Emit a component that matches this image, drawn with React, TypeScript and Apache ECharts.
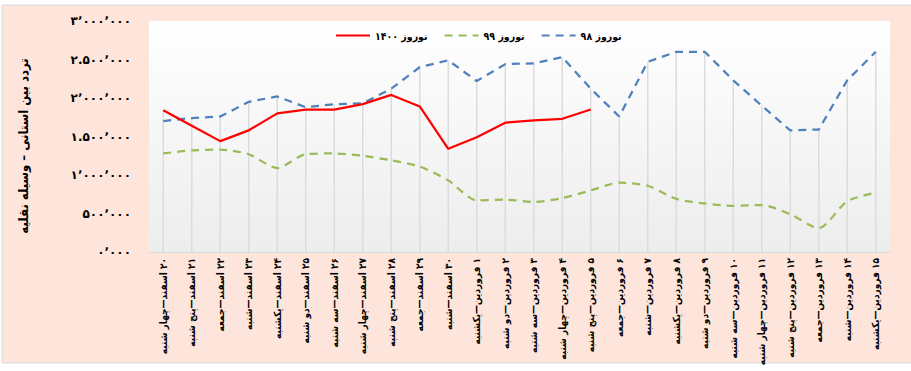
import React, { useEffect, useRef } from "react";
import * as echarts from "echarts";

const categories = [
  "۲۰ اسفند—چهار شنبه",
  "۲۱ اسفند—پنج شنبه",
  "۲۲ اسفند—جمعه",
  "۲۳ اسفند—شنبه",
  "۲۴ اسفند—یکشنبه",
  "۲۵ اسفند—دو شنبه",
  "۲۶ اسفند—سه شنبه",
  "۲۷ اسفند—چهار شنبه",
  "۲۸ اسفند—پنج شنبه",
  "۲۹ اسفند—جمعه",
  "۳۰ اسفند—شنبه",
  "۱ فروردین—یکشنبه",
  "۲ فروردین—دو شنبه",
  "۳ فروردین—سه شنبه",
  "۴ فروردین—چهار شنبه",
  "۵ فروردین—پنج شنبه",
  "۶ فروردین—جمعه",
  "۷ فروردین—شنبه",
  "۸ فروردین—یکشنبه",
  "۹ فروردین—دو شنبه",
  "۱۰ فروردین—سه شنبه",
  "۱۱ فروردین—چهار شنبه",
  "۱۲ فروردین—پنج شنبه",
  "۱۳ فروردین—جمعه",
  "۱۴ فروردین—شنبه",
  "۱۵ فروردین—یکشنبه",
];

const nowruz1400 = [
  1840000, 1640000, 1440000, 1580000, 1800000, 1850000, 1850000, 1920000,
  2040000, 1890000, 1340000, 1490000, 1680000, 1710000, 1730000, 1850000,
];

const nowruz99 = [
  1280000, 1320000, 1330000, 1270000, 1090000, 1270000, 1280000, 1250000,
  1190000, 1110000, 930000, 670000, 680000, 650000, 700000, 800000,
  900000, 860000, 690000, 630000, 600000, 610000, 490000, 310000,
  660000, 770000,
];

const nowruz98 = [
  1700000, 1740000, 1760000, 1950000, 2020000, 1880000, 1920000, 1930000,
  2120000, 2400000, 2490000, 2220000, 2440000, 2450000, 2530000, 2120000,
  1760000, 2470000, 2600000, 2600000, 2230000, 1900000, 1580000, 1590000,
  2230000, 2600000,
];

const yTickValues = [0, 500000, 1000000, 1500000, 2000000, 2500000, 3000000];
const yTickLabels = [
  "۰٬۰۰۰",
  "۵۰۰٬۰۰۰",
  "۱٬۰۰۰٬۰۰۰",
  "۱.۵۰۰٬۰۰۰",
  "۲٬۰۰۰٬۰۰۰",
  "۲.۵۰۰٬۰۰۰",
  "۳٬۰۰۰٬۰۰۰",
];

const seriesNames = ["نوروز ۱۴۰۰", "نوروز ۹۹", "نوروز ۹۸"];
const yAxisTitle = "تردد بین استانی – وسیله نقلیه";

const FONT = "DejaVu Sans";
const COND = "DejaVu Sans Condensed, DejaVu Sans";

// wrap in right-to-left embedding so numbers sit at the logical start
const rtl = (s: string) => "\u202B" + s + "\u202C";

export default function App() {
  const ref = useRef<HTMLDivElement>(null);

  useEffect(() => {
    document.body.style.margin = "0";
    if (!ref.current) return;
    const chart = echarts.init(ref.current, undefined, { renderer: "svg" });

    const dropData = categories.map((_, i) =>
      Math.max(nowruz1400[i] ?? 0, nowruz99[i] ?? 0, nowruz98[i] ?? 0)
    );

    chart.setOption({
      animation: false,
      backgroundColor: "#ffffff",
      textStyle: { fontFamily: FONT },
      graphic: [
        {
          type: "rect",
          z: -10,
          silent: true,
          shape: { x: 2, y: 5, width: 930, height: 358 },
          style: { fill: "#fde5dc", stroke: "#d9d9d9", lineWidth: 1 },
        },
        {
          type: "text",
          x: 23,
          y: 146,
          rotation: Math.PI / 2,
          silent: true,
          style: {
            text: rtl(yAxisTitle),
            fontFamily: COND,
            fontWeight: "bold",
            fontSize: 13,
            fill: "#000",
            align: "center",
            verticalAlign: "middle",
          },
        },
      ],
      legend: {
        data: seriesNames,
        left: 330,
        top: 25,
        itemWidth: 34,
        itemHeight: 12,
        itemGap: 16,
        itemStyle: { opacity: 0 },
        formatter: (n: string) => rtl(n),
        textStyle: {
          fontFamily: COND,
          fontWeight: "bold",
          fontSize: 10.5,
          color: "#000",
        },
      },
      grid: {
        left: 149,
        right: 21,
        top: 21,
        bottom: 119,
        outerBoundsMode: "none",
        containLabel: false,
        show: true,
        borderWidth: 0,
        backgroundColor: new echarts.graphic.LinearGradient(0, 0, 0, 1, [
          { offset: 0, color: "#ffffff" },
          { offset: 1, color: "#ededed" },
        ]),
      },
      xAxis: {
        type: "category",
        data: categories,
        boundaryGap: true,
        axisTick: { show: false },
        axisLine: { lineStyle: { color: "#d9d9d9", width: 1 } },
        axisLabel: {
          interval: 0,
          rotate: 90,
          margin: 6,
          fontFamily: COND,
          fontWeight: "bold",
          fontSize: 10,
          color: "#000",
          formatter: (v: string) => rtl(v),
        },
        splitLine: { show: false },
      },
      yAxis: {
        type: "value",
        min: 0,
        max: 3000000,
        interval: 500000,
        axisLine: { show: false },
        axisTick: { show: false },
        splitLine: { show: false },
        axisLabel: {
          margin: 18,
          fontFamily: FONT,
          fontWeight: "bold",
          fontSize: 12,
          color: "#000",
          formatter: (v: number) => {
            const idx = yTickValues.indexOf(v);
            return idx >= 0 ? yTickLabels[idx] : "";
          },
        },
      },
      series: [
        {
          name: "drop",
          type: "bar",
          data: dropData,
          barWidth: 1.5,
          silent: true,
          itemStyle: { color: "#dcdcdc" },
          z: 1,
        },
        {
          name: seriesNames[2],
          type: "line",
          data: nowruz98,
          symbol: "none",
          z: 3,
          lineStyle: { color: "#4f81bd", width: 2.25, type: [8, 6] },
          itemStyle: { color: "#4f81bd" },
        },
        {
          name: seriesNames[1],
          type: "line",
          data: nowruz99,
          symbol: "none",
          smooth: 0.25,
          z: 3,
          lineStyle: { color: "#9bbb59", width: 2.25, type: [8, 6] },
          itemStyle: { color: "#9bbb59" },
        },
        {
          name: seriesNames[0],
          type: "line",
          data: nowruz1400,
          symbol: "none",
          z: 4,
          lineStyle: { color: "#ff0000", width: 2.25 },
          itemStyle: { color: "#ff0000" },
        },
      ],
    });

    return () => chart.dispose();
  }, []);

  return <div ref={ref} style={{ width: 911, height: 371 }} />;
}
